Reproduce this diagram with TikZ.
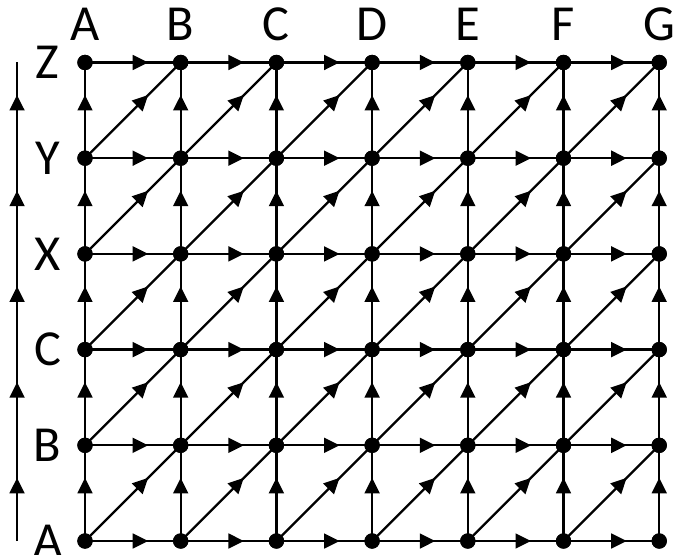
\documentclass[tikz,border=0pt]{standalone}
\usepackage{fontspec}
\setmainfont{Carlito}
\usetikzlibrary{arrows.meta,decorations.markings}
\tikzset{
    dot/.style={circle, fill, inner sep=0pt, minimum size=0.16cm},
    edge/.style={line width=0.68pt, postaction={decorate}, decoration={markings,
        mark=at position 0.66 with {\arrow{Triangle[length=4.6pt,width=4.4pt]}}}},
    lbl/.style={font=\fontsize{15}{17}\selectfont}
}
\begin{document}
\begin{tikzpicture}[line join=round]
    \useasboundingbox (-0.888,-0.146) rectangle (6.144,5.653);
    % grid points
    \foreach \i in {0,...,6} {
        \foreach \j in {0,...,5} {
            \node[dot] (n-\i-\j) at (\i, \j) {};
        }
    }
    % labels
    \foreach \i/\text in {0/A, 1/B, 2/C, 3/D, 4/E, 5/F, 6/G} {
        \node[lbl] (col-\i) at (\i, 5.40) {\text};
    }
    \foreach \j/\text in {0/A, 1/B, 2/C, 3/X, 4/Y, 5/Z} {
        \node[lbl] (row-\j) at (-0.39, \j) {\text};
    }
    % edges
    \foreach \i [evaluate=\i as \k using int(\i+1)] in {0,...,5} {
        \foreach \j [evaluate=\j as \m using int(\j+1)] in {0,...,4} {
            \draw[edge] (n-\i-\j.center) -- (n-\k-\m.center);
        }
    }
    \foreach \i [evaluate=\i as \k using int(\i+1)] in {0,...,5} {
        \foreach \j in {0,...,5} {
            \draw[edge] (n-\i-\j.center) -- (n-\k-\j.center);
        }
    }
    \foreach \i in {0,...,6} {
        \foreach \j [evaluate=\j as \m using int(\j+1)] in {0,...,4} {
            \draw[edge] (n-\i-\j.center) -- (n-\i-\m.center);
        }
    }
    % axis on the left
    \foreach \j in {0,...,5} {
        \coordinate (ax-\j) at (-0.71, \j);
    }
    \foreach \j [evaluate=\j as \m using int(\j+1)] in {0,...,4} {
        \draw[edge] (ax-\j) -- (ax-\m);
    }
    % redraw dots on top
    \foreach \i in {0,...,6} {
        \foreach \j in {0,...,5} {
            \fill (n-\i-\j) circle (0.08);
        }
    }
\end{tikzpicture}
\end{document}
